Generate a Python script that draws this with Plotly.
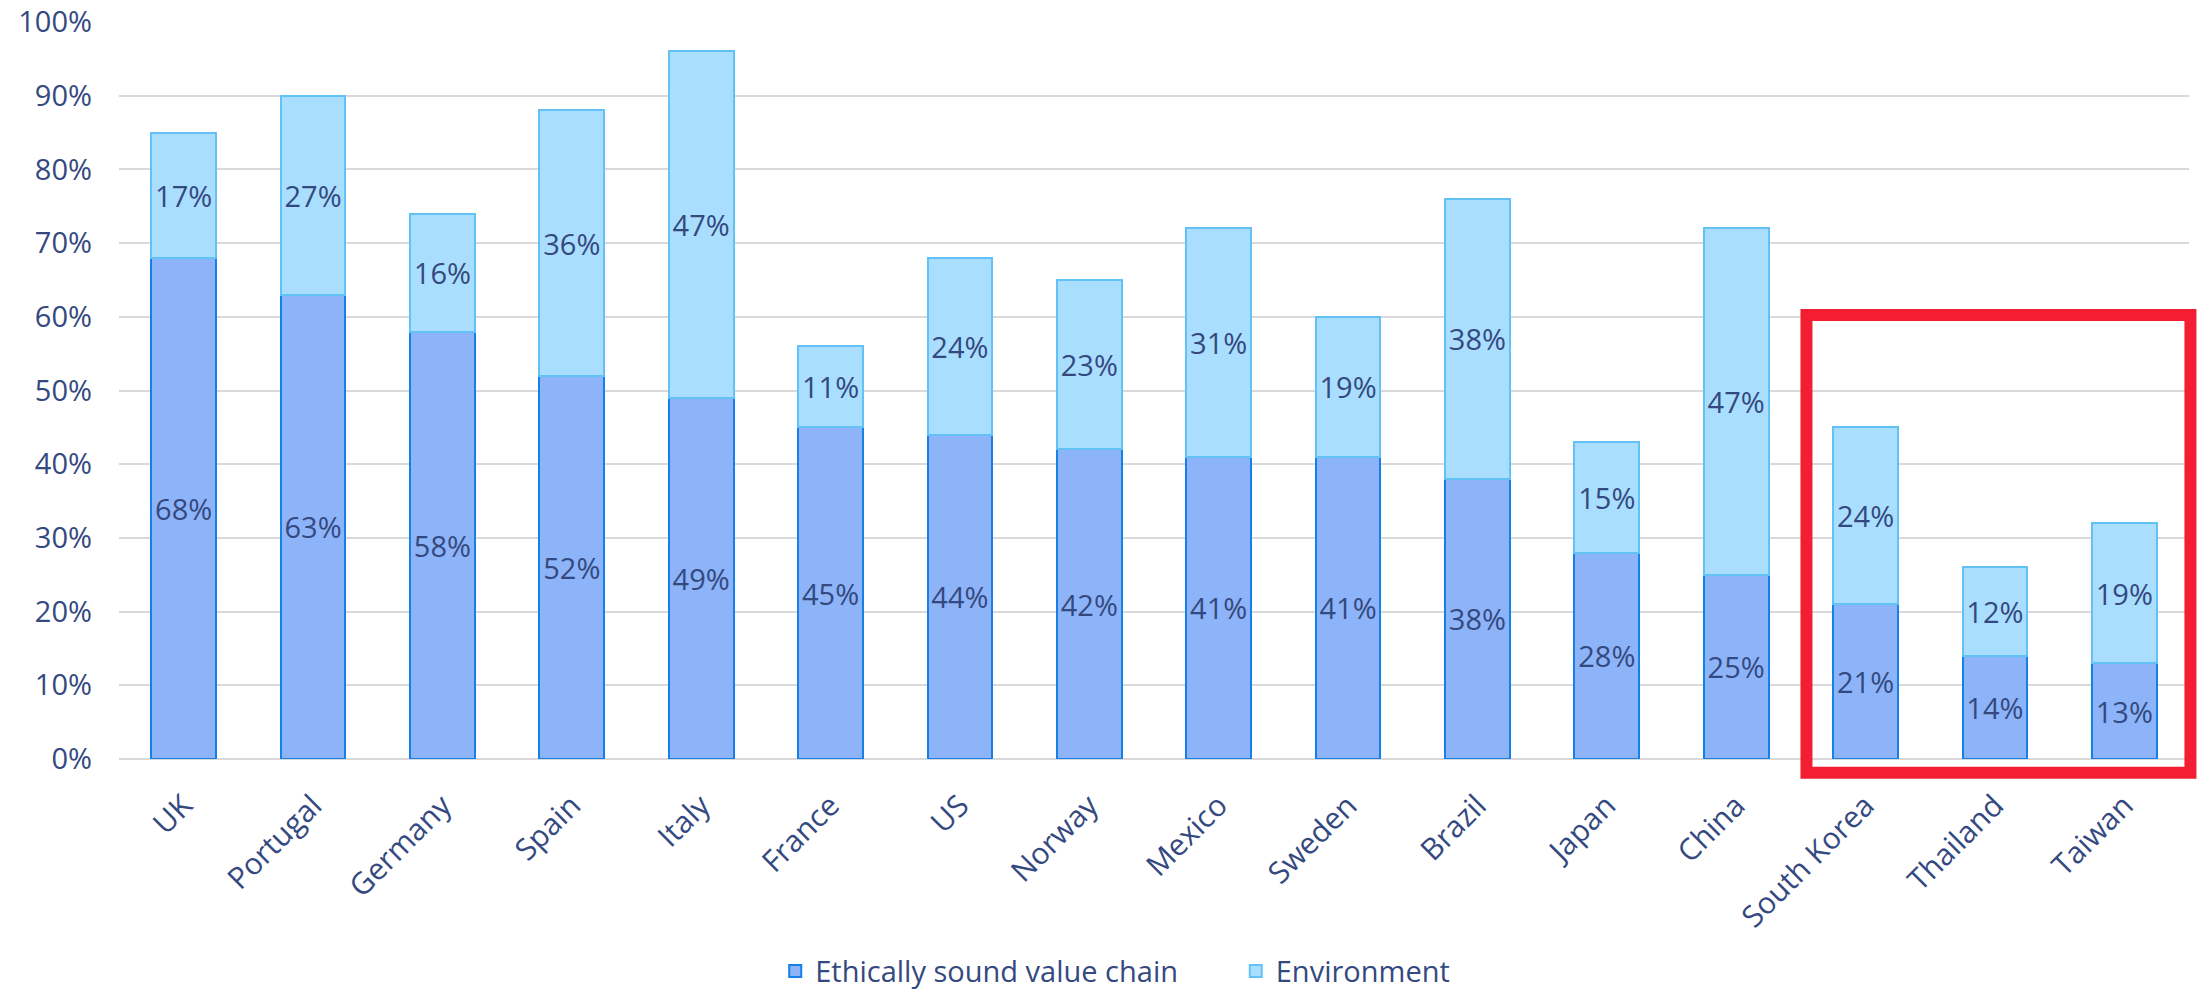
import plotly.graph_objects as go

countries = ["UK", "Portugal", "Germany", "Spain", "Italy", "France", "US", "Norway",
             "Mexico", "Sweden", "Brazil", "Japan", "China", "South Korea", "Thailand", "Taiwan"]
ethical = [68, 63, 58, 52, 49, 45, 44, 42, 41, 41, 38, 28, 25, 21, 14, 13]
environment = [17, 27, 16, 36, 47, 11, 24, 23, 31, 19, 38, 15, 47, 24, 12, 19]
y_ticks = list(range(0, 101, 10))

TEXT = "#34497F"
FONT = "Open Sans"

fig = go.Figure()
fig.add_trace(go.Bar(
    name="Ethically sound value chain" + "\u00a0" * 7,
    x=countries, y=ethical,
    text=[f"{v}%" for v in ethical],
    textposition="inside", insidetextanchor="middle", textangle=0,
    constraintext="none",
    textfont=dict(family=FONT, size=29, color=TEXT),
    marker=dict(color="#8DB4F9", line=dict(color="#1580E8", width=2)),
    hoverinfo="skip",
))
fig.add_trace(go.Bar(
    name="Environment",
    x=countries, y=environment,
    text=[f"{v}%" for v in environment],
    textposition="inside", insidetextanchor="middle", textangle=0,
    constraintext="none",
    textfont=dict(family=FONT, size=29, color=TEXT),
    marker=dict(color="#AADEFE", line=dict(color="#62C2F6", width=2)),
    hoverinfo="skip",
))

# highlight frame around the last three markets
fig.add_shape(type="rect", xref="paper", yref="paper",
              x0=0.8152, x1=1.0007, y0=-0.0186, y1=0.6026,
              line=dict(color="#F41E32", width=12), fillcolor="rgba(0,0,0,0)",
              layer="above")

fig.update_layout(
    barmode="stack", bargap=0.5,
    width=2204, height=991,
    margin=dict(l=119, r=15, t=22, b=232, autoexpand=False),
    paper_bgcolor="white", plot_bgcolor="white",
    font=dict(family=FONT, size=29, color=TEXT),
    showlegend=True,
    legend=dict(orientation="h", xref="container", yref="container",
                x=0.506, xanchor="center", y=0.02, yanchor="middle",
                traceorder="normal",
                font=dict(family=FONT, size=29, color=TEXT),
                itemwidth=30, tracegroupgap=0),
)
fig.update_yaxes(
    range=[0, 100], tickvals=y_ticks, ticktext=[f"{v}%" for v in y_ticks],
    showgrid=True, gridcolor="#D9D9D9", gridwidth=1.5,
    zeroline=True, zerolinecolor="#D9D9D9", zerolinewidth=1.5,
    showline=False, ticks="", ticklabelstandoff=26, automargin=False,
    tickfont=dict(family=FONT, size=29, color=TEXT),
)
fig.update_xaxes(
    tickangle=-45, showgrid=False, showline=False, ticks="",
    ticklabelstandoff=22, automargin=False,
    tickfont=dict(family=FONT, size=30, color=TEXT),
)

fig.write_html("out.html")
